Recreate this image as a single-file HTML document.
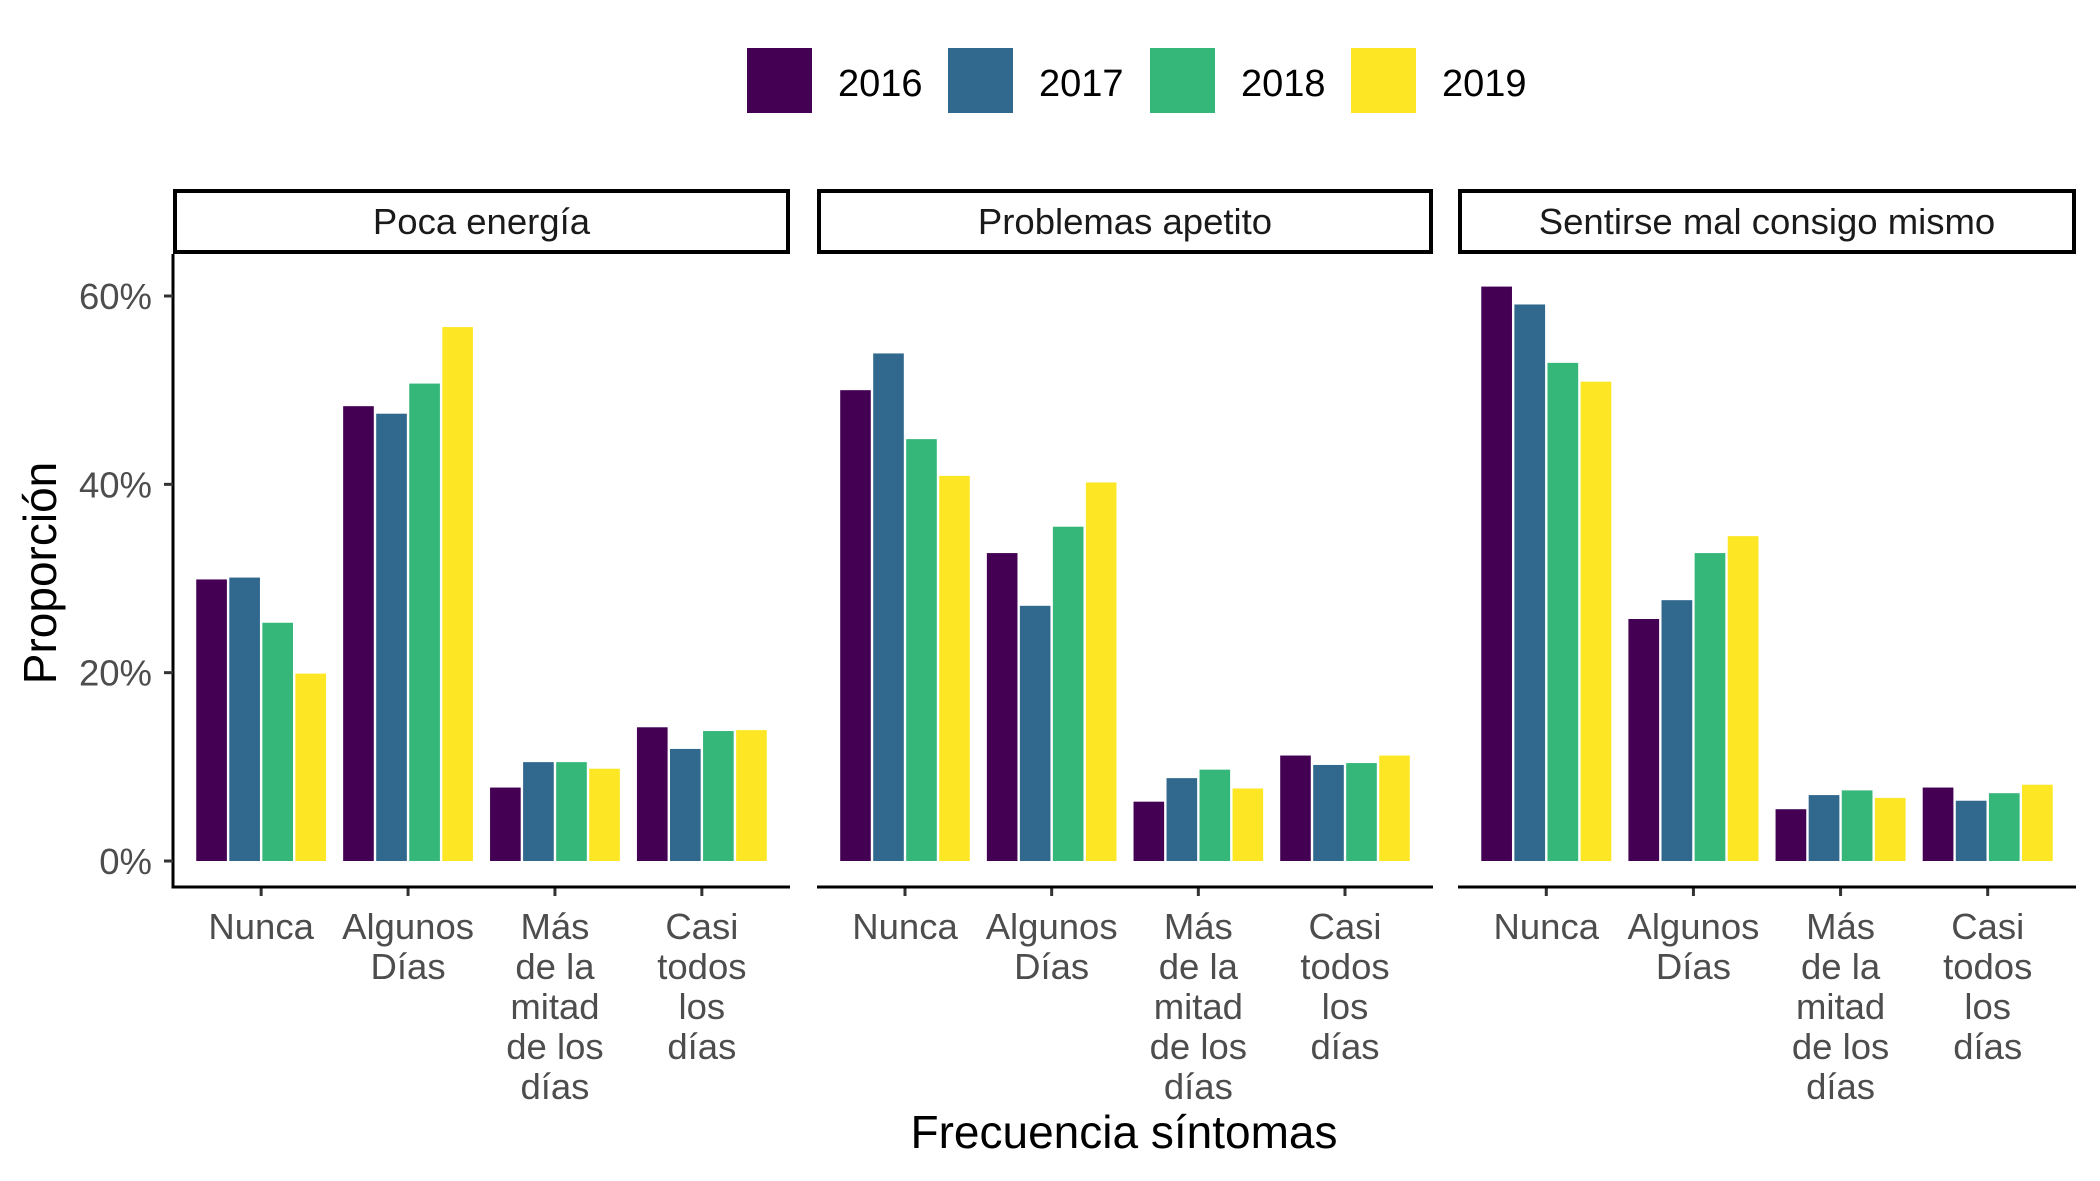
<!DOCTYPE html>
<html><head><meta charset="utf-8">
<style>
html,body{margin:0;padding:0;background:#fff;}
svg{display:block;font-family:"Liberation Sans",Arial,sans-serif;}
</style></head>
<body>
<svg id="chart" width="2100" height="1181" viewBox="0 0 2100 1181">
  <g id="legend"></g>
  <g id="panels"></g>
  <text x="1124" y="1148" font-size="46" text-anchor="middle" fill="#000">Frecuencia síntomas</text>
  <text transform="translate(56,573) rotate(-90)" font-size="46" text-anchor="middle" fill="#000">Proporción</text>
</svg>
<script>
const years = ["2016","2017","2018","2019"];
const colors = ["#440154","#31688E","#35B779","#FDE725"];
const facets = ["Poca energía","Problemas apetito","Sentirse mal consigo mismo"];
const categories = [["Nunca"],["Algunos","Días"],["Más","de la","mitad","de los","días"],["Casi","todos","los","días"]];
const yTicks = [0,20,40,60];
const yTickLabels = ["0%","20%","40%","60%"];
const pocaEnergia = [[29.9,30.1,25.3,19.9],[48.3,47.5,50.7,56.7],[7.8,10.5,10.5,9.8],[14.2,11.9,13.8,13.9]];
const problemasApetito = [[50.0,53.9,44.8,40.9],[32.7,27.1,35.5,40.2],[6.3,8.8,9.7,7.7],[11.2,10.2,10.4,11.2]];
const sentirseMal = [[61.0,59.1,52.9,50.9],[25.7,27.7,32.7,34.5],[5.5,7.0,7.5,6.7],[7.8,6.4,7.2,8.1]];
const facetData = [pocaEnergia, problemasApetito, sentirseMal];

const NS = "http://www.w3.org/2000/svg";
function mk(tag, attrs, parent){const e=document.createElementNS(NS,tag);for(const k in attrs)e.setAttribute(k,attrs[k]);parent.appendChild(e);return e;}

const lg = document.getElementById('legend');
const legX = [747,948,1150,1351];
years.forEach((y,i)=>{
  const r = mk('rect',{x:legX[i],y:48,width:65,height:65,fill:colors[i]},lg);
  
  
  const t = mk('text',{x:legX[i]+91,y:96,'font-size':38,fill:'#000'},lg);
  t.textContent = y;
  
  
});

const panelsG = document.getElementById('panels');
const panelX = [[173,790],[817,1433],[1458,2076]];
const y0 = 861, pxPer = (861-296)/60;
function yScale(v){return y0 - v*pxPer;}
const stripTop = 189, stripBot = 254, axisY = 887;

facets.forEach((f,pi)=>{
  const [x0,x1] = panelX[pi];
  const w = x1-x0, u = w/4.2;
  const g = mk('g',{},panelsG);
  
  
  const sr = mk('rect',{x:x0+2,y:stripTop+2,width:w-4,height:stripBot-stripTop-4,fill:'#fff',stroke:'#000','stroke-width':4},g);
  
  
  const st = mk('text',{x:(x0+x1)/2,y:234,'font-size':36.5,'text-anchor':'middle',fill:'#1a1a1a'},g);
  st.textContent = f;
  
  
  const data = facetData[pi];
  categories.forEach((cat,ci)=>{
    const cx = x0 + (0.6+ci)*u;
    const bw = 0.225*u;
    data[ci].forEach((v,yi)=>{
      const bx = cx - 0.45*u + yi*bw;
      const yt = yScale(v);
      const b = mk('rect',{x:bx+1.2,y:yt,width:bw-2.4,height:y0-yt,fill:colors[yi]},g);
      
      
    });
    const tk = mk('line',{x1:cx,x2:cx,y1:axisY,y2:axisY+9,stroke:'#333','stroke-width':3},g);
    
    
    const tl = mk('text',{x:cx,y:939,'font-size':36.5,'text-anchor':'middle',fill:'#4d4d4d'},g);
    
    
    cat.forEach((line,li)=>{
      const ts = mk('tspan',{x:cx,dy:li===0?0:40},tl);
      ts.textContent=line;
    });
  });
  const ax = mk('line',{x1:x0,x2:x1,y1:axisY,y2:axisY,stroke:'#000','stroke-width':3},g);
  
  
  if(pi===0){
    const yl = mk('line',{x1:x0,x2:x0,y1:stripBot,y2:axisY+1.5,stroke:'#000','stroke-width':3},g);
    
    
    yTicks.forEach((t,ti)=>{
      const yy = yScale(t);
      const l = mk('line',{x1:x0-9,x2:x0,y1:yy,y2:yy,stroke:'#333','stroke-width':3},g);
      
      
      const lt = mk('text',{x:x0-21,y:yy+13,'font-size':36.5,'text-anchor':'end',fill:'#4d4d4d'},g);
      lt.textContent = yTickLabels[ti];
      
      
    });
  }
});
</script>
</body></html>
